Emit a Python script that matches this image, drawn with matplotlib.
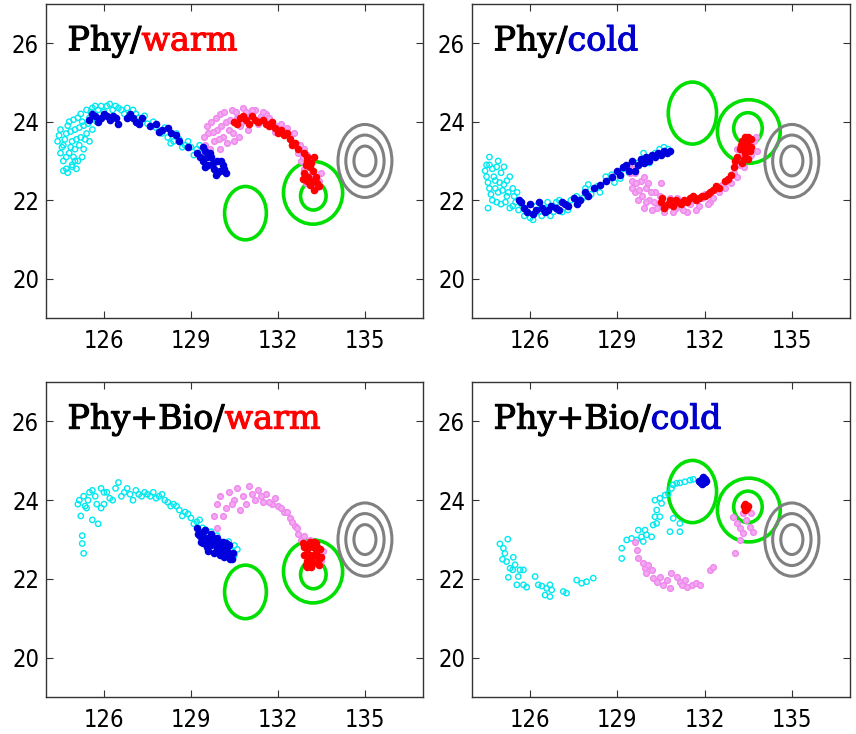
import matplotlib.pyplot as plt
import matplotlib.patheffects as pe
from matplotlib.patches import Ellipse

# ---- trajectory clouds (lon, lat) ----
# Phy / warm
pw_cyan = [(124.4, 23.5), (124.5, 23.2), (124.5, 23.8), (124.6, 23.0), (124.6, 23.4),
           (124.7, 23.7), (124.7, 22.8), (124.8, 23.2), (124.8, 24.0), (124.9, 23.5),
           (124.9, 22.9), (125.0, 23.8), (125.0, 23.3), (125.1, 24.1), (125.1, 23.0),
           (125.2, 23.6), (125.2, 24.2), (125.3, 23.9), (125.3, 23.3), (125.4, 24.3),
           (125.4, 23.7), (125.5, 24.1), (125.6, 23.8), (125.6, 24.35), (125.8, 24.3),
           (126.0, 24.25), (126.1, 24.4), (126.3, 24.3), (126.5, 24.35), (126.7, 24.2),
           (126.9, 24.15), (127.1, 24.2), (127.3, 24.05), (127.5, 23.95), (127.8, 23.85),
           (128.0, 23.7), (128.2, 23.6), (128.4, 23.5), (128.6, 23.55), (128.8, 23.4),
           (129.0, 23.35), (129.2, 23.3), (129.4, 23.2), (124.75, 22.7), (124.6, 22.75),
           (124.45, 23.65), (124.55, 23.35), (124.65, 23.55), (124.7, 23.1), (124.75, 23.9),
           (124.85, 23.35), (124.85, 23.75), (124.95, 23.1), (124.95, 24.05), (125.05, 23.55),
           (125.05, 22.8), (125.15, 23.4), (125.15, 23.85), (125.25, 23.1), (125.25, 24.0),
           (125.35, 23.55), (125.45, 23.95), (125.5, 23.5), (125.55, 24.25), (125.7, 24.4),
           (125.75, 24.0), (125.9, 24.4), (126.2, 24.45), (126.4, 24.4), (126.6, 24.3),
           (126.8, 24.35), (127.0, 24.3), (127.2, 24.1), (127.4, 24.15), (127.7, 24.0),
           (127.9, 23.75), (128.1, 23.85), (128.3, 23.45), (128.5, 23.7), (128.7, 23.35),
           (128.9, 23.5), (129.1, 23.15), (129.3, 23.4), (124.9, 22.85), (125.0, 23.0)]
pw_blue = [(125.5, 24.05), (125.7, 24.15), (125.9, 24.1), (126.0, 24.2), (126.2, 24.05),
           (126.3, 24.15), (126.5, 23.95), (126.8, 24.1), (126.9, 24.2), (127.1, 24.0),
           (127.3, 24.1), (127.6, 23.9), (127.8, 23.95), (128.0, 23.8), (128.3, 23.7),
           (128.5, 23.65), (128.9, 23.35), (129.2, 23.2), (129.4, 23.0), (129.5, 23.25),
           (129.6, 22.9), (129.7, 23.1), (129.8, 22.8), (129.9, 23.0), (130.0, 22.75),
           (130.1, 22.9), (130.2, 22.7), (129.5, 22.85), (129.85, 22.65),
           (125.6, 24.2), (125.8, 24.0), (126.1, 24.15), (126.4, 24.1), (127.0, 24.1),
           (127.2, 23.95), (127.9, 23.75), (128.2, 23.85), (128.6, 23.5), (129.3, 23.1),
           (129.55, 23.1), (129.75, 22.95), (129.9, 22.7), (130.05, 23.0), (130.15, 22.8),
           (129.65, 23.2), (129.4, 23.35)]
pw_pink = [(129.5, 23.4), (129.6, 23.7), (129.7, 24.0), (129.8, 23.5), (129.9, 23.8),
           (130.0, 24.2), (130.0, 23.3), (130.1, 23.6), (130.2, 24.0), (130.3, 23.8),
           (130.4, 24.3), (130.5, 23.5), (130.6, 24.1), (130.7, 23.9), (130.8, 24.35),
           (131.0, 24.2), (131.2, 24.3), (131.4, 24.15), (131.6, 24.2), (131.8, 24.0),
           (132.0, 23.9), (132.2, 23.8), (132.4, 23.6), (132.6, 23.4), (132.7, 23.2),
           (132.8, 23.0), (132.9, 22.8), (133.0, 22.6), (133.2, 22.4), (133.4, 22.5),
           (133.1, 22.9), (132.9, 23.3),
           (129.45, 23.6), (129.55, 23.9), (129.65, 23.3), (129.75, 23.75), (129.85, 24.1),
           (129.95, 23.55), (130.05, 23.9), (130.15, 24.25), (130.25, 23.45), (130.35, 24.05),
           (130.45, 23.7), (130.55, 24.25), (130.65, 23.6), (130.75, 24.0), (130.9, 24.25),
           (130.95, 23.8), (131.1, 24.3), (131.3, 23.95), (131.5, 24.25), (131.7, 24.1),
           (131.9, 23.75), (132.1, 23.95), (132.3, 23.85), (132.5, 23.45), (132.55, 23.7),
           (132.75, 23.4), (132.85, 23.1), (133.0, 23.15), (133.1, 22.65), (132.95, 22.45),
           (133.3, 22.3), (133.5, 22.7)]
pw_red = [(130.5, 24.0), (130.7, 24.1), (130.9, 24.05), (131.0, 23.95), (131.1, 24.15),
          (131.3, 24.0), (131.5, 24.05), (131.7, 23.9), (131.9, 23.85), (132.1, 23.8),
          (132.2, 23.65), (132.4, 23.55), (132.6, 23.45), (132.9, 23.2), (133.0, 23.0),
          (133.1, 22.85), (132.9, 22.7), (133.2, 22.75), (133.0, 22.5), (133.3, 22.6),
          (133.1, 22.4), (133.4, 22.35), (132.95, 22.9), (133.25, 23.1),
          (130.6, 23.95), (130.8, 24.15), (131.2, 24.05), (131.6, 23.95), (131.8, 24.0),
          (132.0, 23.7), (132.3, 23.7), (132.5, 23.4), (132.7, 23.3), (133.0, 23.1),
          (133.15, 22.95), (133.05, 22.6), (133.2, 22.5), (133.35, 22.45), (132.85, 22.55),
          (133.25, 22.25)]

# Phy / cold
pc_cyan = [(124.5, 22.9), (124.5, 22.6), (124.6, 23.1), (124.6, 22.3), (124.7, 22.8),
           (124.7, 22.0), (124.8, 22.5), (124.9, 23.0), (124.9, 22.2), (125.0, 22.7),
           (125.0, 21.9), (125.1, 22.4), (125.2, 22.1), (125.3, 22.6), (125.3, 21.8),
           (125.4, 22.3), (125.5, 21.95), (125.6, 21.75), (125.8, 21.6), (126.0, 21.55),
           (126.2, 21.85), (126.4, 21.6), (126.6, 21.95), (126.8, 21.7), (127.0, 22.0),
           (127.3, 21.75), (127.6, 22.1), (127.9, 22.3), (128.3, 22.35), (128.6, 22.6),
           (128.9, 22.45), (129.2, 22.8), (129.4, 22.7), (129.7, 22.95), (130.0, 23.0),
           (130.3, 23.2), (130.6, 23.35), (128.1, 22.15), (124.55, 21.8),
           (124.45, 22.75), (124.55, 22.45), (124.6, 22.9), (124.65, 22.15), (124.75, 22.6),
           (124.8, 22.3), (124.85, 22.85), (124.85, 21.95), (124.95, 22.45), (125.05, 22.25),
           (125.1, 22.85), (125.15, 21.95), (125.2, 22.5), (125.25, 22.2), (125.4, 21.85),
           (125.45, 22.1), (125.55, 22.2), (125.7, 21.9), (125.9, 21.7), (126.1, 21.5),
           (126.3, 21.7), (126.5, 21.8), (126.7, 21.6), (126.9, 21.95), (127.1, 21.7),
           (127.4, 22.0), (127.8, 22.05), (128.0, 22.4), (128.4, 22.2), (128.8, 22.65),
           (129.1, 22.55), (129.55, 22.9), (129.9, 23.2), (130.1, 22.95), (130.45, 23.3),
           (130.75, 23.3)]
pc_blue = [(125.6, 22.0), (125.8, 21.8), (126.0, 21.9), (126.2, 21.75), (126.3, 21.95),
           (126.5, 21.7), (126.7, 21.85), (126.9, 21.8), (127.1, 21.95), (127.3, 21.85),
           (127.5, 22.05), (127.7, 22.0), (127.9, 22.2), (128.2, 22.3), (128.6, 22.5),
           (129.0, 22.75), (129.3, 22.9), (129.5, 23.0), (129.8, 23.05), (130.0, 23.1),
           (130.2, 23.15), (130.4, 23.2), (130.6, 23.25), (130.8, 23.25), (129.6, 22.75),
           (129.1, 22.65), (126.1, 21.65),
           (125.7, 21.95), (125.9, 21.7), (126.4, 21.8), (126.6, 21.75), (127.0, 21.75),
           (127.2, 21.9), (127.6, 21.9), (128.0, 22.1), (128.4, 22.4), (128.8, 22.6),
           (129.2, 22.85), (129.4, 22.75), (129.7, 22.9), (129.9, 22.95), (130.1, 23.0),
           (130.3, 23.1), (130.5, 23.15), (130.7, 23.2)]
pc_pink = [(129.4, 22.9), (129.5, 22.5), (129.6, 22.7), (129.6, 22.2), (129.7, 22.0),
           (129.8, 22.5), (129.9, 21.8), (130.0, 22.3), (130.1, 22.0), (130.2, 21.75),
           (130.3, 22.2), (130.4, 21.9), (130.6, 21.7), (130.8, 22.05), (131.0, 21.8),
           (131.2, 21.95), (131.4, 21.7), (131.6, 22.1), (131.8, 21.85), (132.0, 22.15),
           (132.2, 21.95), (132.4, 22.3), (132.6, 22.4), (132.8, 22.55), (133.0, 22.7),
           (133.2, 22.9), (133.3, 23.2), (133.5, 23.4), (133.7, 23.5), (133.8, 23.25),
           (133.1, 23.3), (130.5, 22.45),
           (129.45, 22.7), (129.5, 22.3), (129.55, 22.8), (129.65, 22.45), (129.75, 22.25),
           (129.85, 22.1), (129.9, 22.6), (130.0, 21.95), (130.05, 22.45), (130.15, 22.2),
           (130.25, 21.95), (130.35, 21.8), (130.45, 22.1), (130.55, 21.9), (130.7, 21.85),
           (130.9, 21.7), (131.05, 22.05), (131.25, 21.75), (131.5, 21.9), (131.7, 21.75),
           (131.9, 22.05), (132.1, 21.9), (132.3, 22.05), (132.5, 22.2), (132.7, 22.3),
           (132.9, 22.45), (133.1, 22.6), (133.35, 22.85), (133.6, 23.15), (133.75, 23.6)]
pc_red = [(130.5, 21.95), (130.6, 21.8), (130.8, 22.0), (130.9, 21.85), (131.1, 21.95),
          (131.3, 22.0), (131.5, 22.05), (131.7, 22.0), (131.9, 22.1), (132.1, 22.15),
          (132.3, 22.25), (132.5, 22.3), (132.7, 22.5), (132.9, 22.65), (133.0, 22.85),
          (133.1, 23.1), (133.2, 23.3), (133.3, 23.5), (133.4, 23.2), (133.5, 23.6),
          (133.6, 23.35), (133.3, 22.95), (133.5, 23.05), (133.45, 23.45),
          (130.55, 22.05), (130.75, 21.9), (131.0, 22.0), (131.2, 21.9), (131.4, 21.95),
          (131.6, 22.1), (131.8, 22.05), (132.0, 22.1), (132.2, 22.2), (132.4, 22.35),
          (132.8, 22.55), (133.05, 23.0), (133.25, 23.4), (133.35, 23.3), (133.4, 23.6),
          (133.55, 23.25), (133.6, 23.55), (133.35, 23.05)]

# Phy+Bio / warm
bw_cyan = [(125.1, 23.9), (125.2, 23.6), (125.25, 23.1), (125.25, 22.9), (125.3, 22.65),
           (125.3, 24.1), (125.4, 23.8), (125.5, 24.2), (125.6, 23.5), (125.7, 24.1),
           (125.8, 23.4), (125.9, 24.3), (126.0, 23.9), (126.1, 24.2), (126.3, 24.0),
           (126.5, 24.45), (126.6, 24.1), (126.8, 24.3), (127.0, 24.0), (127.2, 24.15),
           (127.4, 24.2), (127.6, 24.1), (127.8, 24.05), (128.0, 24.15), (128.2, 23.95),
           (128.4, 23.9), (128.6, 23.75), (128.8, 23.7), (129.0, 23.55), (129.2, 23.45),
           (129.4, 23.3), (129.6, 23.1), (129.8, 23.0), (130.0, 22.9), (130.2, 22.8),
           (130.4, 22.7), (130.5, 22.85), (125.9, 23.8),
           (125.15, 24.0), (125.35, 23.85), (125.45, 24.0), (125.6, 24.25), (125.75, 23.9),
           (126.0, 24.2), (126.2, 24.05), (126.4, 24.3), (126.7, 24.2), (126.9, 24.15),
           (127.1, 24.25), (127.3, 24.1), (127.5, 24.15), (127.7, 24.2), (127.9, 24.1),
           (128.1, 24.0), (128.3, 23.85), (128.5, 23.85), (128.7, 23.6), (128.9, 23.65),
           (129.1, 23.4), (129.3, 23.5), (129.5, 23.25), (129.7, 23.2), (129.9, 23.1),
           (130.1, 22.7), (130.3, 22.95), (130.5, 22.6), (130.6, 22.75)]
bw_blue = [(129.2, 23.3), (129.3, 23.1), (129.4, 23.2), (129.5, 22.95), (129.5, 23.25),
           (129.6, 23.05), (129.7, 22.85), (129.7, 23.15), (129.8, 22.95), (129.9, 22.75),
           (129.9, 23.05), (130.0, 22.85), (130.1, 22.65), (130.1, 22.95), (130.2, 22.75),
           (130.3, 22.6), (130.3, 22.85), (130.4, 22.5), (129.35, 22.95), (129.6, 22.7),
           (130.0, 22.6),
           (129.25, 23.15), (129.45, 23.05), (129.55, 22.8), (129.65, 22.95), (129.75, 23.05),
           (129.85, 22.85), (129.95, 22.95), (130.05, 22.75), (130.15, 22.55), (130.25, 22.7),
           (130.35, 22.5), (130.45, 22.65), (129.4, 22.9), (129.8, 22.65), (130.2, 22.9)]
bw_pink = [(129.8, 23.6), (129.9, 23.9), (130.0, 24.1), (130.2, 23.8), (130.3, 24.2),
           (130.5, 24.0), (130.6, 24.3), (130.8, 24.1), (131.0, 24.35), (131.2, 24.0),
           (131.3, 24.25), (131.5, 23.95), (131.6, 24.15), (131.8, 23.9), (132.0, 23.85),
           (132.2, 23.7), (132.4, 23.55), (132.6, 23.35), (132.7, 23.15), (132.8, 23.0),
           (133.0, 22.9), (133.2, 22.8), (133.4, 22.6), (133.5, 22.45), (131.9, 24.05),
           (130.7, 23.75),
           (129.9, 23.3), (130.1, 23.6), (130.4, 23.9), (130.9, 23.9), (131.1, 24.15),
           (131.4, 24.1), (131.7, 23.95), (132.1, 23.8), (132.3, 23.7), (132.5, 23.45),
           (132.65, 23.3), (132.9, 23.1), (133.1, 23.0), (133.3, 22.7), (133.55, 22.7)]
bw_red = [(132.85, 22.9), (132.9, 22.6), (133.0, 22.75), (133.0, 22.45), (133.1, 22.95),
          (133.1, 22.6), (133.2, 22.8), (133.2, 22.4), (133.3, 22.65), (133.3, 22.9),
          (133.4, 22.5), (133.45, 22.75), (132.95, 22.35), (133.5, 22.55), (133.15, 22.3),
          (132.9, 22.8), (133.05, 22.85), (133.15, 22.5), (133.25, 22.6), (133.35, 22.8),
          (133.4, 22.35), (133.0, 22.3), (133.25, 22.95)]

# Phy+Bio / cold
bc_cyan = [(124.96, 22.89), (125.08, 22.78), (125.23, 23.01), (125.13, 22.65), (125.05, 22.5),
           (125.19, 22.44), (125.42, 22.55), (125.48, 22.36), (125.31, 22.27), (125.4, 22.23),
           (125.65, 22.23), (125.77, 22.23), (125.25, 22.04), (125.59, 22.06), (125.54, 21.85),
           (125.77, 21.85), (125.88, 21.79), (126.17, 22.06), (126.28, 21.85), (126.4, 21.82),
           (126.57, 21.76), (126.68, 21.85), (126.74, 21.72), (126.51, 21.59), (126.68, 21.55),
           (127.14, 21.68), (127.25, 21.64), (127.6, 21.97), (127.77, 21.89), (127.94, 21.93),
           (128.17, 22.02), (129.15, 22.52), (129.15, 22.78), (129.32, 22.99), (129.49, 23.03),
           (129.66, 22.99), (129.72, 23.24), (129.83, 23.07), (129.89, 22.95), (129.95, 23.24),
           (130.0, 23.12), (130.18, 23.07), (130.23, 23.37), (130.29, 23.58), (130.35, 23.41),
           (130.46, 23.58), (130.35, 23.75), (130.52, 23.92), (130.29, 24.0), (130.46, 24.05),
           (130.64, 24.13), (130.75, 24.17), (130.86, 24.3), (130.92, 24.39), (131.04, 24.43),
           (131.15, 24.44), (131.32, 24.47), (131.5, 24.51), (131.61, 24.53), (130.81, 23.2),
           (131.15, 23.2), (130.92, 23.54), (131.15, 23.41)]
bc_blue = [(131.8, 24.5), (131.9, 24.55), (132.0, 24.45), (131.95, 24.6), (132.05, 24.5),
           (131.85, 24.45), (131.9, 24.4), (131.95, 24.5), (132.0, 24.55), (131.9, 24.48)]
bc_pink = [(129.6, 22.95), (129.66, 22.74), (129.72, 22.52), (129.89, 22.4), (129.95, 22.27),
           (130.06, 22.35), (130.0, 22.14), (130.18, 22.23), (130.23, 22.02), (130.35, 21.93),
           (130.46, 22.06), (130.58, 21.85), (130.69, 21.97), (130.81, 21.76), (130.86, 22.14),
           (131.04, 22.06), (131.15, 21.93), (131.21, 21.85), (131.32, 21.97), (131.38, 21.8),
           (131.55, 21.85), (131.72, 21.89), (131.84, 21.85), (132.18, 22.23), (132.3, 22.31),
           (132.98, 23.58), (133.1, 23.41), (133.21, 23.29), (133.33, 23.67), (133.44, 23.5),
           (133.61, 23.67), (133.67, 23.2), (133.04, 22.65), (133.21, 22.99), (133.33, 23.16),
           (133.56, 23.33)]
bc_red = [(133.35, 23.85), (133.45, 23.8), (133.4, 23.9), (133.4, 23.75), (133.5, 23.85),
          (133.42, 23.82)]

# ---- contours: (x centre, y centre, x radius, y radius) ----
warm_green = [(130.88, 21.67, 0.72, 0.68), (133.21, 22.19, 1.02, 0.80), (133.22, 22.11, 0.44, 0.36)]
cold_green = [(131.58, 24.22, 0.83, 0.79), (133.52, 23.75, 1.08, 0.81), (133.49, 23.83, 0.49, 0.40)]
gray_rings = [(135.0, 23.0, 0.93), (135.0, 23.0, 0.66), (135.0, 23.0, 0.38)]

panels = [
    ("Phy/", "warm", "red", pw_cyan, pw_pink, pw_blue, pw_red, warm_green),
    ("Phy/", "cold", "#0000cc", pc_cyan, pc_pink, pc_blue, pc_red, cold_green),
    ("Phy+Bio/", "warm", "red", bw_cyan, bw_pink, bw_blue, bw_red, warm_green),
    ("Phy+Bio/", "cold", "#0000cc", bc_cyan, bc_pink, bc_blue, bc_red, cold_green),
]

xticks = [126, 129, 132, 135]
yticks = [20, 22, 24, 26]

fig = plt.figure(figsize=(8.56, 7.34), dpi=100)
boxes = [[0.0537, 0.5668, 0.4404, 0.4278], [0.5514, 0.5668, 0.4416, 0.4278],
         [0.0537, 0.0504, 0.4404, 0.4290], [0.5514, 0.0504, 0.4416, 0.4290]]

for box, (lead, tail, tail_col, cyan, pink, blue, red, greens) in zip(boxes, panels):
    ax = fig.add_axes(box)
    for cx, cy, rx, ry in greens:
        ax.add_patch(Ellipse((cx, cy), 2 * rx, 2 * ry, fill=False,
                             edgecolor='#00e000', linewidth=2.6))
    for cx, cy, r in gray_rings:
        ax.add_patch(Ellipse((cx, cy), 2 * r, 2 * r, fill=False,
                             edgecolor='#808080', linewidth=2.2))

    ax.scatter([p[0] for p in cyan], [p[1] for p in cyan], s=15, facecolors='none',
               edgecolors='#00e8f0', linewidths=1.0)
    ax.scatter([p[0] for p in pink], [p[1] for p in pink], s=17, facecolors='#f4a8f0',
               edgecolors='#ee88ee', linewidths=1.0)
    ax.scatter([p[0] for p in blue], [p[1] for p in blue], s=20, color='#0000dd')
    ax.scatter([p[0] for p in red], [p[1] for p in red], s=20, color='red')

    ax.set_xlim(124, 137)
    ax.set_ylim(19, 27)
    ax.set_xticks(xticks)
    ax.set_yticks(yticks)
    ax.tick_params(direction='in', length=5, width=0.8, top=True, right=True,
                   labelsize=17, color='#333333')
    ax.tick_params(axis='x', pad=8)
    ax.tick_params(axis='y', pad=5)
    for lab in ax.get_xticklabels() + ax.get_yticklabels():
        lab.set_family(['Liberation Sans Narrow', 'DejaVu Sans'])
        lab.set_stretch('condensed')
    for sp in ax.spines.values():
        sp.set_linewidth(1.0)
        sp.set_color('#333333')

    # title in two colours, slightly thickened strokes
    t1 = ax.text(0.057, 0.83, lead, transform=ax.transAxes, fontsize=24,
                 family='DejaVu Serif', color='black', va='bottom', ha='left',
                 path_effects=[pe.withStroke(linewidth=0.8, foreground='black')])
    ax.annotate(tail, xy=(1, 0), xycoords=t1, fontsize=24, family='DejaVu Serif',
                color=tail_col, va='bottom', ha='left',
                path_effects=[pe.withStroke(linewidth=0.8, foreground=tail_col)])

fig.savefig('out.png', dpi=100)
